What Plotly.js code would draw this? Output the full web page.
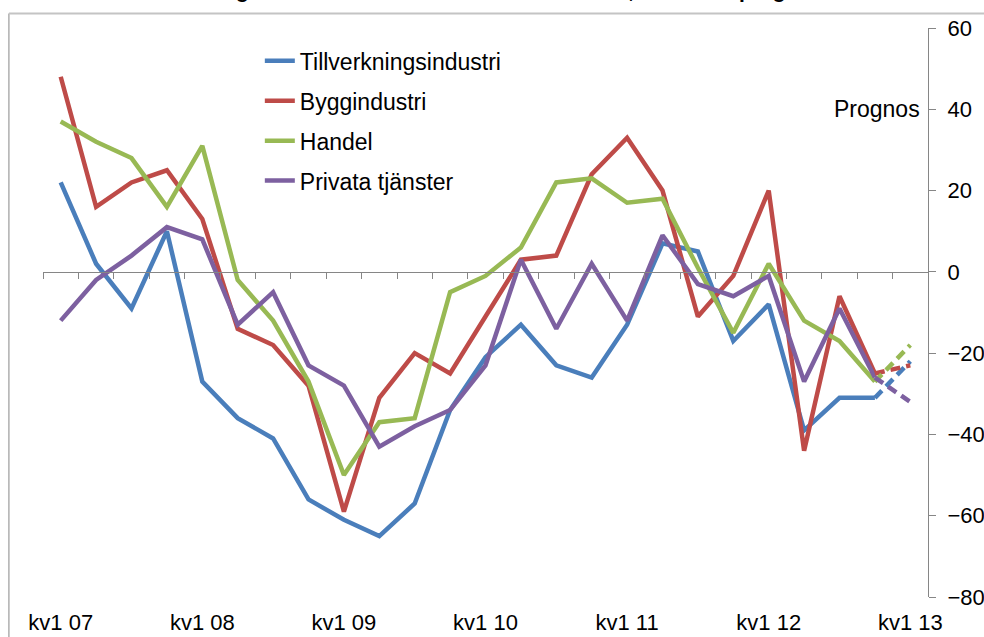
<!DOCTYPE html>
<html lang="sv">
<head>
  <meta charset="UTF-8">
  <title>Anställningsplaner, utfall och prognos</title>
  <script src="https://cdn.plot.ly/plotly-3.0.1.min.js"></script>
  <style>
    html, body { margin: 0; padding: 0; background: #fff; }
    #chart { width: 984px; height: 637px; }
  </style>
</head>
<body>
  <div id="chart"></div>
  <script>
    // kvartal kv1 07 .. kv1 13
    const quarters = [];
    for (let y = 7; y <= 13; y++) {
      for (let q = 1; q <= 4; q++) {
        if (y === 13 && q > 1) break;
        quarters.push('kv' + q + ' ' + String(y).padStart(2, '0'));
      }
    }
    const tickLabels = ['kv1 07', 'kv1 08', 'kv1 09', 'kv1 10', 'kv1 11', 'kv1 12', 'kv1 13'];

    // utfall t.o.m. kv4 12, prognos för kv1 13 separat
    const tillverkning = [22, 2, -9, 10, -27, -36, -41, -56, -61, -65, -57, -34, -21, -13, -23, -26, -13, 7, 5, -17, -8, -39, -31, -31];
    const bygg = [48, 16, 22, 25, 13, -14, -18, -28, -59, -31, -20, -25, -11, 3, 4, 24, 33, 20, -11, -1, 20, -44, -6, -25];
    const handel = [37, 32, 28, 16, 31, -2, -12, -27, -50, -37, -36, -5, -1, 6, 22, 23, 17, 18, 1, -15, 2, -12, -17, -27];
    const tjanster = [-12, -2, 4, 11, 8, -13, -5, -23, -28, -43, -38, -34, -23, 3, -14, 2, -12, 9, -3, -6, -1, -27, -9, -26];

    const prognosTillverkning = -22;
    const prognosBygg = -23;
    const prognosHandel = -18;
    const prognosTjanster = -32;

    const series = [
      { name: 'Tillverkningsindustri', data: tillverkning, prognos: prognosTillverkning, color: '#4A7EBB' },
      { name: 'Byggindustri', data: bygg, prognos: prognosBygg, color: '#BE4B48' },
      { name: 'Handel', data: handel, prognos: prognosHandel, color: '#98B954' },
      { name: 'Privata tjänster', data: tjanster, prognos: prognosTjanster, color: '#7D60A0' }
    ];

    const idx = quarters.map((_, i) => i);
    const traces = [];
    series.forEach((s, k) => {
      traces.push({
        x: idx.slice(0, s.data.length),
        y: s.data,
        name: s.name,
        legendgroup: 'g' + k,
        type: 'scatter',
        mode: 'lines',
        line: { color: s.color, width: 4.5 }
      });
    });
    series.forEach((s, k) => {
      const last = s.data.length - 1;
      traces.push({
        x: [last, last + 1],
        y: [s.data[last], s.prognos],
        legendgroup: 'g' + k,
        showlegend: false,
        type: 'scatter',
        mode: 'lines',
        line: { color: s.color, width: 4.5, dash: '10px,6px' }
      });
    });
    // osynlig serie för nollaxeln
    traces.push({ x: [0], y: [0], xaxis: 'x2', mode: 'none', showlegend: false, hoverinfo: 'skip' });

    const boundaries = quarters.map((_, i) => i - 0.5).concat([quarters.length - 0.5]);

    const layout = {
      width: 984,
      height: 637,
      margin: { l: 43, r: 56, t: 28, b: 40 },
      paper_bgcolor: '#fff',
      plot_bgcolor: 'rgba(0,0,0,0)',
      font: { family: 'Liberation Sans, Arial, sans-serif', size: 23, color: '#000' },
      showlegend: true,
      legend: {
        x: 0.245, y: 0.98, xanchor: 'left', yanchor: 'top',
        bgcolor: 'rgba(0,0,0,0)',
        font: { size: 23 },
        itemwidth: 30,
        tracegroupgap: 7
      },
      xaxis: {
        range: [-0.5, quarters.length - 0.5],
        tickvals: tickLabels.map(t => quarters.indexOf(t)),
        ticktext: tickLabels,
        showline: false, showgrid: false, zeroline: false,
        ticks: '',
        ticklabelstandoff: 10,
        tickfont: { size: 22 }
      },
      xaxis2: {
        overlaying: 'x',
        matches: 'x',
        anchor: 'free',
        position: 80 / 140,
        side: 'bottom',
        tickvals: boundaries,
        showticklabels: false,
        ticks: 'outside', ticklen: 6, tickwidth: 1, tickcolor: '#868686',
        showline: true, linecolor: '#868686', linewidth: 1,
        showgrid: false, zeroline: false
      },
      yaxis: {
        side: 'right',
        range: [-80, 60],
        dtick: 20,
        tick0: 0,
        showline: true, linecolor: '#868686', linewidth: 1,
        ticks: 'outside', ticklen: 7, tickcolor: '#868686',
        ticklabelstandoff: 7,
        showgrid: false, zeroline: false,
        tickfont: { size: 22 }
      },
      annotations: [
        {
          text: 'Prognos', xref: 'paper', yref: 'paper',
          x: 0.9935, y: 0.857, xanchor: 'right', yanchor: 'middle',
          showarrow: false, font: { size: 23 }
        },
        {
          text: '<b>Nettotal anställningar kommande kvartal inom sektorerna, utfall och prognos</b>',
          xref: 'paper', yref: 'paper',
          x: 0.447, y: 1.0415, xanchor: 'center', yanchor: 'bottom',
          showarrow: false, font: { size: 21 }
        }
      ],
      shapes: [
        { type: 'line', xref: 'paper', yref: 'paper', x0: -0.0385, x1: -0.0385, y0: -0.1, y1: 1.0255, line: { color: '#868686', width: 1 } },
        { type: 'line', xref: 'paper', yref: 'paper', x0: -0.0385, x1: 1.1, y0: 1.0255, y1: 1.0255, line: { color: '#c4c4c4', width: 2 } }
      ]
    };

    Plotly.newPlot('chart', traces, layout, { displayModeBar: false, staticPlot: true });
  </script>
</body>
</html>
